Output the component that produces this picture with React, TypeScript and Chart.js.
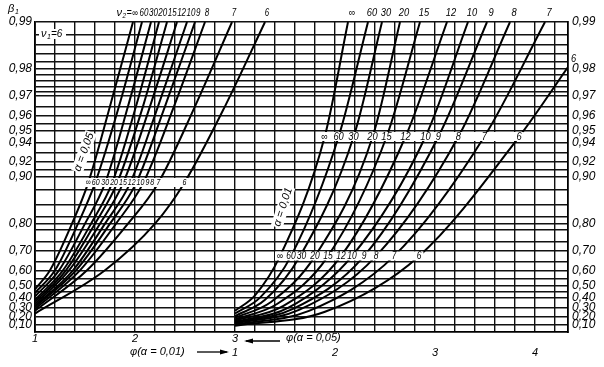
import React, { useEffect, useRef } from "react";
import { Chart, registerables, Scale } from "chart.js";

// ---------------- data ----------------
const nu2Names = ["∞", "60", "30", "20", "15", "12", "10", "9", "8", "7", "6"];

// α = 0.05 curves, points [φ, β]
const a05_inf: [number, number][] = [[1.0, 0.47], [1.15, 0.6], [1.37, 0.8], [1.53, 0.89], [1.75, 0.965], [1.98, 0.99]];
const a05_60: [number, number][] = [[1.0, 0.44], [1.2, 0.6], [1.43, 0.8], [1.6, 0.89], [1.84, 0.965], [2.07, 0.99]];
const a05_30: [number, number][] = [[1.0, 0.41], [1.24, 0.6], [1.5, 0.8], [1.7, 0.89], [1.93, 0.965], [2.16, 0.99]];
const a05_20: [number, number][] = [[1.0, 0.38], [1.28, 0.6], [1.56, 0.8], [1.77, 0.89], [2.01, 0.965], [2.24, 0.99]];
const a05_15: [number, number][] = [[1.0, 0.36], [1.31, 0.6], [1.6, 0.8], [1.82, 0.89], [2.08, 0.965], [2.32, 0.99]];
const a05_12: [number, number][] = [[1.0, 0.34], [1.34, 0.6], [1.65, 0.8], [1.88, 0.89], [2.15, 0.965], [2.42, 0.99]];
const a05_10: [number, number][] = [[1.0, 0.32], [1.38, 0.6], [1.7, 0.8], [1.95, 0.89], [2.23, 0.965], [2.52, 0.99]];
const a05_9: [number, number][] = [[1.0, 0.31], [1.41, 0.6], [1.75, 0.8], [2.01, 0.89], [2.3, 0.965], [2.6, 0.99]];
const a05_8: [number, number][] = [[1.0, 0.29], [1.45, 0.6], [1.81, 0.8], [2.08, 0.89], [2.39, 0.965], [2.7, 0.99]];
const a05_7: [number, number][] = [[1.0, 0.27], [1.52, 0.6], [1.93, 0.8], [2.23, 0.89], [2.6, 0.965], [2.97, 0.99]];
const a05_6: [number, number][] = [[1.0, 0.24], [1.7, 0.6], [2.2, 0.8], [2.49, 0.89], [2.9, 0.965], [3.3, 0.99]];

// α = 0.01 curves, points [φ, β]
const a01_inf: [number, number][] = [[1.0, 0.27], [1.2, 0.42], [1.45, 0.676], [1.9, 0.946], [2.13, 0.99]];
const a01_60: [number, number][] = [[1.0, 0.24], [1.25, 0.4], [1.56, 0.676], [2.04, 0.946], [2.33, 0.99]];
const a01_30: [number, number][] = [[1.0, 0.21], [1.3, 0.38], [1.65, 0.676], [2.19, 0.946], [2.47, 0.99]];
const a01_20: [number, number][] = [[1.0, 0.19], [1.36, 0.36], [1.8, 0.676], [2.38, 0.946], [2.65, 0.99]];
const a01_15: [number, number][] = [[1.0, 0.17], [1.42, 0.34], [1.93, 0.676], [2.52, 0.946], [2.85, 0.99]];
const a01_12: [number, number][] = [[1.0, 0.155], [1.48, 0.32], [2.06, 0.676], [2.71, 0.946], [3.12, 0.99]];
const a01_10: [number, number][] = [[1.0, 0.14], [1.53, 0.3], [2.17, 0.676], [2.91, 0.946], [3.33, 0.99]];
const a01_9: [number, number][] = [[1.0, 0.13], [1.58, 0.29], [2.29, 0.676], [3.04, 0.946], [3.52, 0.99]];
const a01_8: [number, number][] = [[1.0, 0.12], [1.64, 0.28], [2.41, 0.676], [3.24, 0.946], [3.75, 0.99]];
const a01_7: [number, number][] = [[1.0, 0.105], [1.74, 0.27], [2.59, 0.676], [3.5, 0.946], [4.1, 0.99]];
const a01_6: [number, number][] = [[1.0, 0.09], [1.9, 0.26], [2.84, 0.676], [3.85, 0.946], [4.33, 0.9805]];

const curves05 = [a05_inf, a05_60, a05_30, a05_20, a05_15, a05_12, a05_10, a05_9, a05_8, a05_7, a05_6];
const curves01 = [a01_inf, a01_60, a01_30, a01_20, a01_15, a01_12, a01_10, a01_9, a01_8, a01_7, a01_6];

// β axis: grid lines and labelled ticks
const betaGrid = [0.1, 0.2, 0.3, 0.4, 0.45, 0.5, 0.55, 0.6, 0.65, 0.7, 0.74, 0.78, 0.8, 0.82, 0.85, 0.88, 0.9, 0.91, 0.92, 0.93, 0.94, 0.95, 0.955, 0.96, 0.965, 0.97, 0.972, 0.974, 0.976, 0.978, 0.98, 0.982, 0.984, 0.986, 0.988, 0.99];
const betaLabels = [0.1, 0.2, 0.3, 0.4, 0.5, 0.6, 0.7, 0.8, 0.9, 0.92, 0.94, 0.95, 0.96, 0.97, 0.98, 0.99];

// φ axis
const phiGrid = [1.0, 1.2, 1.4, 1.6, 1.8, 2.0, 2.2, 2.4, 2.6, 2.8, 3.0, 3.2, 3.4, 3.6, 3.8, 4.0, 4.2, 4.4, 4.6, 4.8, 5.0, 5.2, 5.4, 5.6, 5.8, 6.0, 6.2];
const phi05Labels = [1, 2, 3];
const phi01Labels = [1, 2, 3, 4];
const PHI01_OFFSET = 2; // φ(α=0.01)=1 sits at φ(α=0.05)=3
const PHI_MIN = 1;
const PHI_MAX = 6.33;

// ---------------- custom β scale (ordinate ~ -log(1-β)) ----------------
const toT = (b: number) => -Math.log10(1 - b);

class PowerScale extends Scale {
  static id = "power";
  static defaults = {};
  declare _t0: number;
  declare _tr: number;
  determineDataLimits() {
    const o: any = this.options;
    this.min = o.min ?? 0;
    this.max = o.max ?? 0.99;
  }
  buildTicks() {
    return betaGrid.map((v) => ({ value: v }));
  }
  configure() {
    super.configure();
    this._t0 = toT(this.min);
    this._tr = toT(this.max) - this._t0;
  }
  getPixelForValue(v: number) {
    return this.getPixelForDecimal((toT(v) - this._t0) / this._tr);
  }
  getValueForPixel(p: number) {
    const d = this.getDecimalForPixel(p);
    return 1 - Math.pow(10, -(this._t0 + d * this._tr));
  }
  getLabelForValue(v: number) {
    return String(v);
  }
}

Chart.register(...registerables, PowerScale as any);

const FONT = '"Liberation Sans", "DejaVu Sans", sans-serif';
const fmt = (v: number) => v.toFixed(2).replace(".", ",");
const near = (a: number, b: number) => Math.abs(a - b) < 1e-6;

function drawText(
  ctx: CanvasRenderingContext2D,
  s: string,
  x: number,
  y: number,
  size: number,
  align: "left" | "center" | "right" = "center",
  sx = 1
) {
  ctx.save();
  ctx.font = `italic ${size}px ${FONT}`;
  ctx.textBaseline = "middle";
  const w = ctx.measureText(s).width * sx;
  const left = align === "center" ? x - w / 2 : align === "left" ? x : x - w;
  ctx.translate(left, y);
  ctx.scale(sx, 1);
  ctx.textAlign = "left";
  ctx.fillStyle = "#000";
  ctx.fillText(s, 0, 0);
  ctx.restore();
  return { left, right: left + w, w };
}

function measure(ctx: CanvasRenderingContext2D, s: string, size: number, sx = 1) {
  ctx.save();
  ctx.font = `italic ${size}px ${FONT}`;
  const w = ctx.measureText(s).width * sx;
  ctx.restore();
  return w;
}

function xAtBeta(pts: [number, number][], off: number, beta: number, xs: any, ys: any) {
  for (let i = 0; i < pts.length - 1; i++) {
    const [p0, b0] = pts[i];
    const [p1, b1] = pts[i + 1];
    if ((beta >= b0 && beta <= b1) || (beta <= b0 && beta >= b1)) {
      const y0 = ys.getPixelForValue(b0);
      const y1 = ys.getPixelForValue(b1);
      const y = ys.getPixelForValue(beta);
      const x0 = xs.getPixelForValue(p0 + off);
      const x1 = xs.getPixelForValue(p1 + off);
      const f = y1 === y0 ? 0 : (y - y0) / (y1 - y0);
      return x0 + f * (x1 - x0);
    }
  }
  return null;
}

function labelRow(
  ctx: CanvasRenderingContext2D,
  curves: [number, number][][],
  off: number,
  rowY: number,
  size: number,
  sx: number,
  xs: any,
  ys: any
) {
  const beta = ys.getValueForPixel(rowY);
  const items: { s: string; left: number; w: number }[] = [];
  let prevRight = -1e9;
  curves.forEach((c, i) => {
    const cx = xAtBeta(c, off, beta, xs, ys);
    if (cx == null) return;
    const s = nu2Names[i];
    const w = measure(ctx, s, size, sx);
    let left = cx - w / 2;
    if (left < prevRight + 1) left = prevRight + 1;
    items.push({ s, left, w });
    prevRight = left + w;
  });
  if (!items.length) return;
  ctx.save();
  ctx.fillStyle = "#fff";
  const l = items[0].left - 2;
  const r = items[items.length - 1].left + items[items.length - 1].w + 2;
  ctx.fillRect(l, rowY - 4.5, r - l, 9);
  ctx.restore();
  items.forEach((it) => drawText(ctx, it.s, it.left, rowY, size, "left", sx));
}

function arrow(ctx: CanvasRenderingContext2D, x0: number, x1: number, y: number) {
  ctx.save();
  ctx.strokeStyle = "#000";
  ctx.fillStyle = "#000";
  ctx.lineWidth = 1.3;
  ctx.beginPath();
  ctx.moveTo(x0, y);
  ctx.lineTo(x1, y);
  ctx.stroke();
  const dir = Math.sign(x1 - x0);
  ctx.beginPath();
  ctx.moveTo(x1 + dir * 2, y);
  ctx.lineTo(x1 - dir * 7, y - 2.5);
  ctx.lineTo(x1 - dir * 7, y + 2.5);
  ctx.closePath();
  ctx.fill();
  ctx.restore();
}

const annotations = {
  id: "annotations",
  afterDatasetsDraw(chart: any) {
    const ctx: CanvasRenderingContext2D = chart.ctx;
    const xs = chart.scales.x;
    const ys = chart.scales.y;
    const area = chart.chartArea;

    // curve labels, α = 0.05
    labelRow(ctx, curves05, 0, 182.5, 9, 0.78, xs, ys);
    // curve labels, α = 0.01
    labelRow(ctx, curves01, PHI01_OFFSET, 256, 10, 0.85, xs, ys);
    labelRow(ctx, curves01, PHI01_OFFSET, 136.5, 11, 0.85, xs, ys);

    // top labels (where each curve meets β = 0.99)
    let prev = -1e9;
    let firstLeft = 0;
    curves05.forEach((c, i) => {
      const cx = xAtBeta(c, 0, 0.99, xs, ys);
      if (cx == null) return;
      const w = measure(ctx, nu2Names[i], 10, 0.8);
      let left = cx + 2 - w / 2;
      if (left < prev + 0.5) left = prev + 0.5;
      if (i === 0) firstLeft = left;
      drawText(ctx, nu2Names[i], left, 13, 10, "left", 0.8);
      prev = left + w;
    });
    const eqW = measure(ctx, "=", 10, 0.9);
    drawText(ctx, "=", firstLeft - 0.5, 13, 10, "right", 0.9);
    drawText(ctx, "2", firstLeft - eqW - 1, 16, 7, "right", 0.9);
    drawText(ctx, "ν", firstLeft - eqW - 5, 13, 11, "right", 1);

    prev = -1e9;
    curves01.forEach((c, i) => {
      const cx = xAtBeta(c, PHI01_OFFSET, 0.99, xs, ys);
      const w = measure(ctx, nu2Names[i], 11, 0.85);
      if (cx == null) {
        const last = c[c.length - 1];
        const yy = ys.getPixelForValue(last[1]);
        drawText(ctx, nu2Names[i], area.right + 3, yy - 8, 11, "left", 0.85);
        return;
      }
      let left = cx + 4 - w / 2;
      if (left < prev + 1) left = prev + 1;
      drawText(ctx, nu2Names[i], left, 13, 11, "left", 0.85);
      prev = left + w;
    });

    // β1 title
    drawText(ctx, "β", 8, 9, 11, "left");
    drawText(ctx, "1", 15, 12, 7, "left");

    // ν1 = 6 box
    const ny = 34;
    ctx.save();
    ctx.fillStyle = "#fff";
    ctx.fillRect(39, ny - 5, 27, 10);
    ctx.restore();
    drawText(ctx, "ν", 41, ny, 11, "left");
    drawText(ctx, "1", 47, ny + 3, 7, "left");
    drawText(ctx, "=6", 51, ny, 10, "left");

    // rotated α labels
    const rot = (s: string, x: number, y: number, ang: number) => {
      ctx.save();
      ctx.translate(x, y);
      ctx.rotate((ang * Math.PI) / 180);
      ctx.font = `italic 11px ${FONT}`;
      const w = ctx.measureText(s).width;
      ctx.fillStyle = "#fff";
      ctx.fillRect(-w / 2 - 1, -6, w + 2, 12);
      ctx.fillStyle = "#000";
      ctx.textAlign = "center";
      ctx.textBaseline = "middle";
      ctx.fillText(s, 0, 0);
      ctx.restore();
    };
    rot("α = 0,05", 84, 152, -70);
    rot("α = 0,01", 283, 207, -72);

    // bottom φ captions
    arrow(ctx, 280, 246, 341);
    drawText(ctx, "φ(α = 0,05)", 286, 338, 11, "left");
    drawText(ctx, "φ(α = 0,01)", 130, 352, 11, "left");
    arrow(ctx, 197, 227, 352);
  },
};

const lineStyle = {
  borderColor: "#000",
  borderWidth: 2,
  pointRadius: 0,
  showLine: true,
  fill: false,
  cubicInterpolationMode: "monotone" as const,
};

const tickFont = { family: FONT, style: "italic" as const, size: 12 };
const GRID = { color: "#111", lineWidth: 1.4, drawTicks: false };

export default function App() {
  const ref = useRef<HTMLCanvasElement>(null);
  useEffect(() => {
    const datasets = [
      ...curves05.map((c, i) => ({
        label: `α=0.05 ν2=${nu2Names[i]}`,
        data: c.map(([p, b]) => ({ x: p, y: b })),
        ...lineStyle,
      })),
      ...curves01.map((c, i) => ({
        label: `α=0.01 ν2=${nu2Names[i]}`,
        data: c.map(([p, b]) => ({ x: p + PHI01_OFFSET, y: b })),
        ...lineStyle,
      })),
    ];
    const chart = new Chart(ref.current!, {
      type: "scatter",
      data: { datasets },
      plugins: [annotations],
      options: {
        animation: false,
        responsive: false,
        events: [],
        layout: { padding: { top: 22, left: 0, right: 0, bottom: 0 } },
        plugins: { legend: { display: false }, tooltip: { enabled: false } },
        scales: {
          x: {
            type: "linear",
            position: "bottom",
            min: PHI_MIN,
            max: PHI_MAX,
            weight: 0,
            afterBuildTicks: (s: any) => {
              s.ticks = phiGrid.map((v) => ({ value: v }));
            },
            afterFit: (s: any) => {
              s.height = 13;
            },
            grid: GRID,
            border: { display: true, color: "#000", width: 1.8 },
            ticks: {
              autoSkip: false,
              maxRotation: 0,
              padding: 0,
              color: "#000",
              font: { ...tickFont, size: 11 },
              callback: (v: any) => (phi05Labels.some((p) => near(p, v)) ? String(v) : ""),
            },
          },
          x2: {
            type: "linear",
            position: "bottom",
            min: PHI_MIN,
            max: PHI_MAX,
            weight: 1,
            afterBuildTicks: (s: any) => {
              s.ticks = phi01Labels.map((v) => ({ value: v + PHI01_OFFSET }));
            },
            afterFit: (s: any) => {
              s.height = 22;
            },
            grid: { display: false, drawTicks: false },
            border: { display: false },
            ticks: {
              autoSkip: false,
              maxRotation: 0,
              padding: 1,
              color: "#000",
              font: { ...tickFont, size: 11 },
              callback: (v: any) => String(Math.round(v - PHI01_OFFSET)),
            },
          },
          y: {
            type: "power" as any,
            position: "left",
            min: 0,
            max: 0.99,
            afterFit: (s: any) => {
              s.width = 35;
            },
            grid: GRID,
            border: { display: true, color: "#000", width: 1.8 },
            ticks: {
              autoSkip: false,
              padding: 3,
              color: "#000",
              font: tickFont,
              callback: (v: any) => (betaLabels.some((b) => near(b, v)) ? fmt(v) : ""),
            },
          } as any,
          y2: {
            type: "power" as any,
            position: "right",
            min: 0,
            max: 0.99,
            afterFit: (s: any) => {
              s.width = 36;
            },
            grid: { display: false, drawTicks: false },
            border: { display: true, color: "#000", width: 1.8 },
            ticks: {
              autoSkip: false,
              padding: 4,
              color: "#000",
              font: tickFont,
              callback: (v: any) => (betaLabels.some((b) => near(b, v)) ? fmt(v) : ""),
            },
          } as any,
        },
      },
    } as any);
    return () => chart.destroy();
  }, []);
  return (
    <div style={{ position: "absolute", left: 0, top: 0, width: 604, height: 367, background: "#fff" }}>
      <canvas ref={ref} width={604} height={367} style={{ display: "block" }} />
    </div>
  );
}
